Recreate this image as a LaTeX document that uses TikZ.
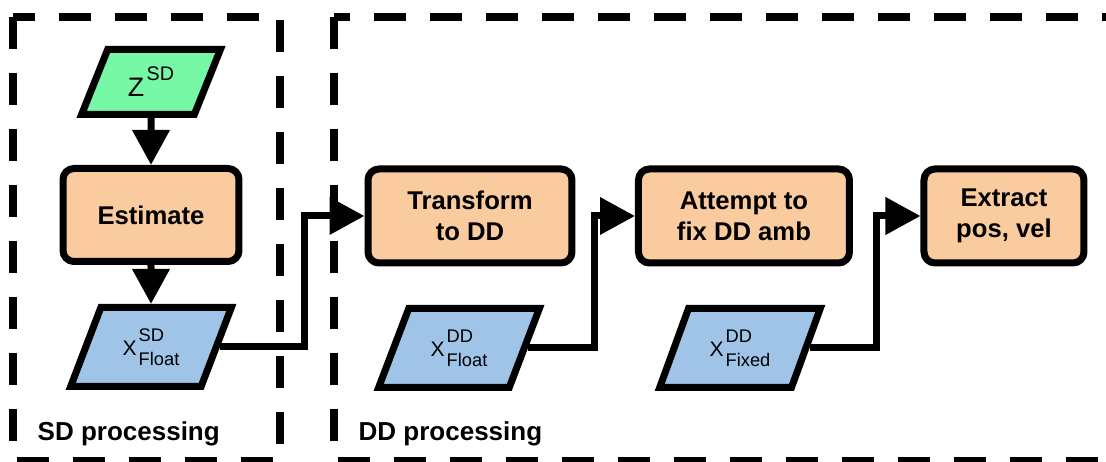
\documentclass[tikz,border=0pt]{standalone}
\usepackage{fontspec}
\setmainfont{Liberation Sans}
\usetikzlibrary{shapes.geometric,arrows.meta}

\definecolor{zgreen}{HTML}{76F8A6}
\definecolor{procorange}{HTML}{F9CB9F}
\definecolor{datablue}{HTML}{9FC4E7}

% variable with upper and lower index
\newcommand{\supsub}[3]{#1\kern0.2mm\rlap{\raisebox{1.37mm}{\fontsize{5.2}{6}\selectfont #2}}\raisebox{-1mm}{\fontsize{5.2}{6}\selectfont #3}}
\newcommand{\suponly}[2]{#1\kern0.25mm\raisebox{1.6mm}{\fontsize{5.6}{6}\selectfont #2}}

\begin{document}
\begin{tikzpicture}[x=0.1mm,y=-0.1mm]
\tikzset{
  proc/.style={draw, line width=0.7mm, rounded corners=1.1mm, fill=procorange,
    align=center, inner sep=0pt, minimum height=9.4mm,
    font=\bfseries\fontsize{7.3}{8.8}\selectfont},
  data/.style={trapezium, trapezium left angle=65, trapezium right angle=115,
    trapezium stretches=true, draw, line width=0.7mm, fill=datablue,
    inner sep=0pt, minimum height=7.9mm, minimum width=16.1mm,
    font=\fontsize{6}{7}\selectfont},
  flow/.style={line width=0.7mm, -{Triangle[length=3.5mm,width=3.6mm]}},
  region/.style={line width=0.75mm, dash pattern=on 3.2mm off 2.4mm},
  caption/.style={anchor=west, inner sep=0pt, font=\bfseries\fontsize{7.4}{9}\selectfont}
}
\useasboundingbox (0,0) rectangle (1106,462);
\clip (0,0) rectangle (1106,462);

% processing regions
\draw[region] (13,17) rectangle (280,461);
\draw[region] (334,17) rectangle (1130,461);
\node[caption] (sdcap) at (37,434) {SD processing};
\node[caption] (ddcap) at (358,434) {DD processing};

% SD part
\node[data, fill=zgreen, minimum height=6.5mm, minimum width=13.9mm,
  font=\fontsize{7.6}{8}\selectfont] (zsd) at (151,82) {\suponly{Z}{SD}};
\node[proc, minimum width=17.6mm, minimum height=9.3mm] (estimate) at (151,215) {Estimate};
\node[data] (xsdfloat) at (151,347) {\supsub{X}{SD}{Float}};

% DD part
\node[proc, minimum width=20.4mm] (transform) at (470,216) {Transform\\to DD};
\node[proc, minimum width=21.1mm] (attempt) at (744,216) {Attempt to\\fix DD amb};
\node[proc, minimum width=16.0mm] (extract) at (1004,216) {Extract\\pos, vel};
\node[data] (xddfloat) at (459,348) {\supsub{X}{DD}{Float}};
\node[data] (xddfixed) at (740,348) {\supsub{X}{DD}{Fixed}};

% flows
\draw[flow] (zsd.south) -- (estimate.north);
\draw[flow] (estimate.south) -- (xsdfloat.north);
\draw[flow] (xsdfloat.east) -- ++(85,0) |- (transform.west);
\draw[flow] (xddfloat.east) -- ++(66,0) |- (attempt.west);
\draw[flow] (xddfixed.east) -- ++(67,0) |- (extract.west);

\end{tikzpicture}
\end{document}
